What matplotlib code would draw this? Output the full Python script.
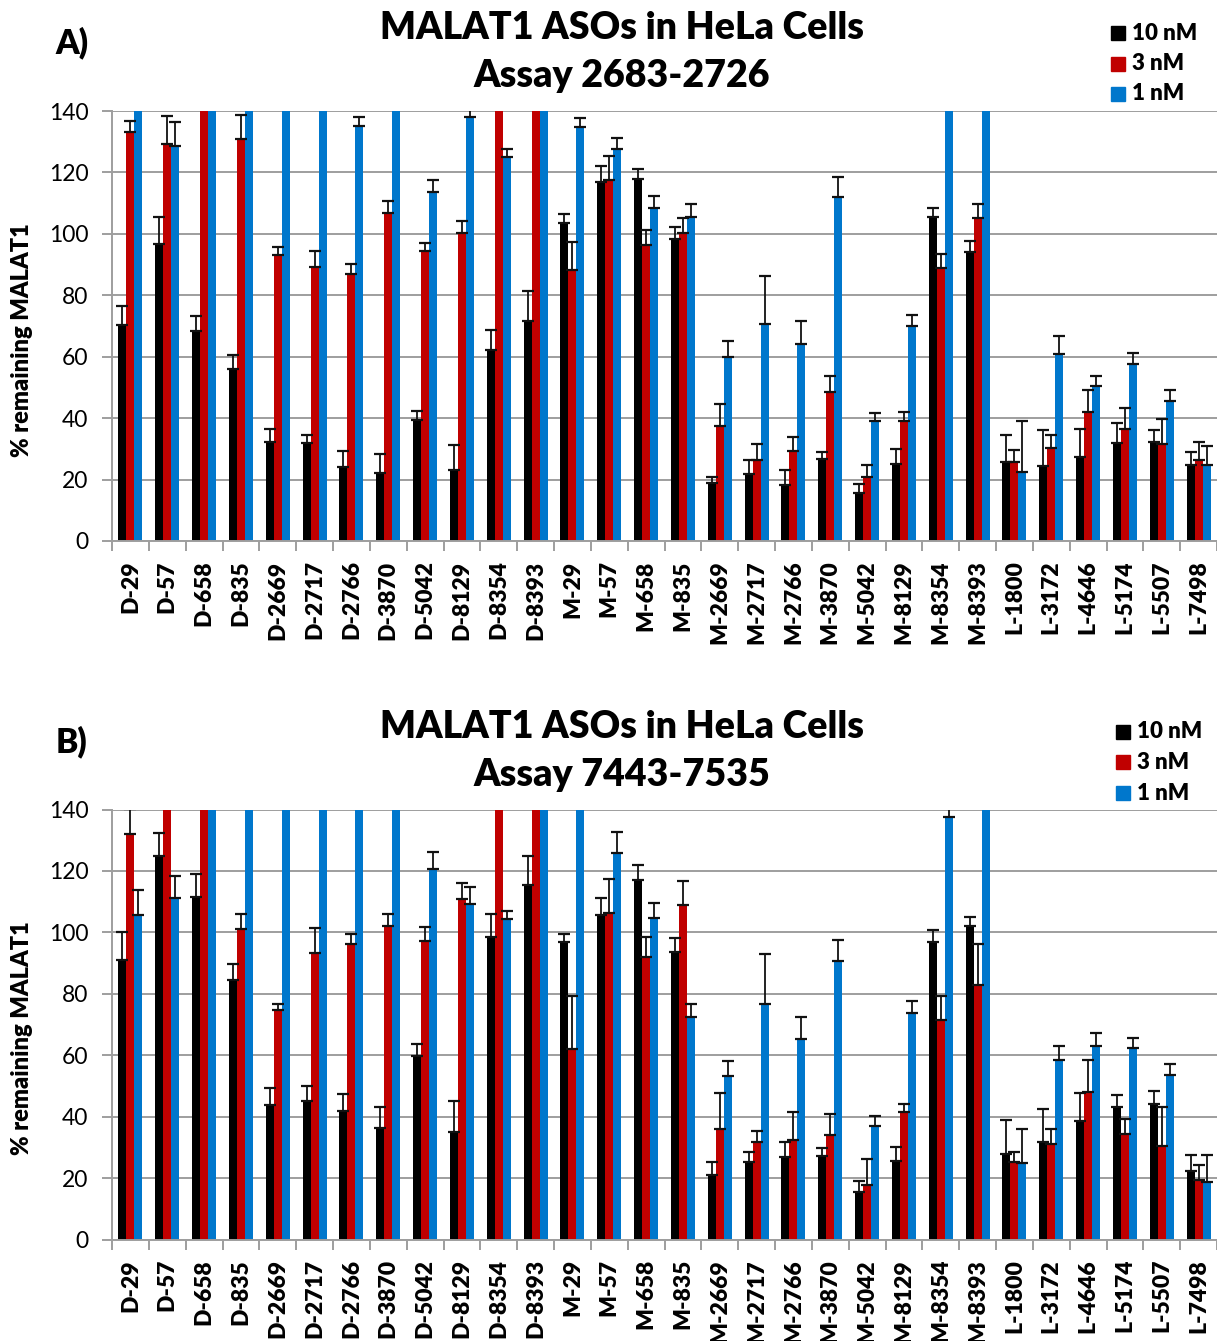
import numpy as np
import matplotlib
matplotlib.use("Agg")
import matplotlib.pyplot as plt

plt.rcParams['font.family'] = ['Lato', 'DejaVu Sans']

# --- Data (bars above 140 are off-scale)
labels = ["D-29", "D-57", "D-658", "D-835", "D-2669", "D-2717", "D-2766", "D-3870",
          "D-5042", "D-8129", "D-8354", "D-8393", "M-29", "M-57", "M-658", "M-835",
          "M-2669", "M-2717", "M-2766", "M-3870", "M-5042", "M-8129", "M-8354", "M-8393",
          "L-1800", "L-3172", "L-4646", "L-5174", "L-5507", "L-7498"]
series_names = ["10 nM", "3 nM", "1 nM"]

# Panel A: Assay 2683-2726
a_10 = [70.2, 96.7, 68.4, 56.1, 32.3, 31.9, 24.0, 22.0, 39.4, 23.0, 62.2, 71.7, 103.6, 117.0, 117.9,
        98.4, 18.9, 21.7, 18.3, 26.7, 15.5, 25.0, 105.6, 94.2, 25.7, 24.3, 27.5, 31.9, 32.2, 24.9]
a_10_err = [6.4, 8.8, 5.0, 4.4, 4.3, 2.5, 5.2, 6.4, 3.0, 8.4, 6.4, 9.7, 3.0, 5.1, 3.3,
            3.8, 1.9, 4.6, 4.8, 2.2, 3.0, 5.1, 2.8, 3.6, 8.7, 11.8, 9.1, 6.4, 4.0, 4.0]
a_3 = [133.3, 129.3, 150, 130.8, 93.1, 89.1, 87.0, 106.7, 94.3, 100.2, 150, 150, 88.2, 117.4, 96.4,
       100.2, 37.6, 26.3, 29.2, 48.4, 20.8, 39.1, 89.0, 105.2, 25.7, 30.4, 42.0, 36.5, 31.5, 26.5]
a_3_err = [3.6, 9.0, 0, 7.9, 2.6, 5.2, 3.1, 4.0, 2.8, 4.1, 0, 0, 9.3, 8.0, 4.8,
           4.9, 6.9, 5.2, 4.7, 5.3, 4.1, 2.9, 4.6, 4.5, 4.0, 4.1, 7.3, 6.8, 8.3, 5.7]
a_1 = [150, 128.6, 150, 150, 150, 150, 135.0, 150, 113.7, 137.9, 125.1, 150, 134.8, 127.6, 108.5,
       105.5, 60.0, 70.7, 64.1, 111.9, 39.1, 69.9, 150, 150, 22.5, 60.8, 50.5, 57.6, 45.6, 24.6]
a_1_err = [0, 7.8, 0, 0, 0, 0, 3.0, 0, 3.8, 2.6, 2.4, 0, 2.9, 3.5, 3.9,
           4.2, 5.2, 15.6, 7.4, 6.5, 2.6, 3.8, 0, 0, 16.6, 6.1, 3.3, 3.5, 3.6, 6.2]

# Panel B: Assay 7443-7535
b_10 = [91.1, 124.9, 111.4, 84.6, 43.9, 45.1, 41.9, 36.2, 59.8, 35.0, 98.5, 115.3, 96.8, 105.8, 117.0,
        93.7, 20.9, 25.3, 26.8, 27.2, 15.5, 25.5, 96.8, 102.1, 27.7, 31.9, 38.7, 43.1, 44.2, 22.3]
b_10_err = [9.1, 7.4, 7.5, 5.1, 5.5, 5.0, 5.6, 7.0, 4.0, 10.0, 7.4, 9.4, 2.8, 5.3, 4.8,
            4.5, 4.3, 3.3, 5.0, 2.6, 3.4, 4.5, 4.0, 2.8, 11.3, 10.5, 8.9, 3.8, 4.2, 5.1]
b_3 = [132.0, 150, 150, 101.2, 74.6, 93.2, 96.3, 102.2, 97.3, 110.7, 150, 150, 62.1, 106.3, 92.0,
       108.8, 36.1, 31.8, 32.3, 33.9, 17.7, 41.6, 71.4, 82.9, 25.2, 31.2, 48.0, 34.2, 30.5, 19.3]
b_3_err = [8.1, 0, 0, 4.9, 2.2, 8.1, 3.3, 3.7, 4.4, 5.3, 0, 0, 17.1, 11.0, 6.4,
           7.8, 11.6, 3.4, 9.3, 7.0, 8.5, 2.5, 8.0, 13.4, 3.4, 4.8, 10.3, 5.0, 12.5, 5.1]
b_1 = [105.6, 111.1, 150, 150, 150, 150, 150, 150, 120.6, 109.3, 104.3, 150, 150, 126.0, 104.8,
       72.6, 53.2, 76.7, 65.2, 90.8, 36.9, 73.7, 137.4, 150, 24.8, 58.3, 63.0, 62.2, 53.5, 18.7]
b_1_err = [8.2, 7.4, 0, 0, 0, 0, 0, 0, 5.6, 5.5, 2.7, 0, 0, 6.7, 4.6,
           4.2, 4.9, 16.1, 7.2, 6.6, 3.3, 3.8, 4.5, 0, 11.3, 4.8, 4.3, 3.5, 3.8, 8.9]

colors = ["#000000", "#C00000", "#0077CC"]
GRID = "#9E9E9E"
HEAVY = 800  # Lato extra-bold, closest to the heavy Calibri bold of the original

fig = plt.figure(figsize=(12.17, 13.41), dpi=100)


def draw_panel(bottom, series, errs, letter, assay, legend_x, legend_y):
    ax = fig.add_axes([112 / 1217, bottom, 1105 / 1217, 430 / 1341])
    x = np.arange(len(labels))
    w = 0.217
    for i, (vals, err, c) in enumerate(zip(series, errs, colors)):
        pos = x + (i - 1) * w
        ax.bar(pos, vals, width=w, color=c, zorder=2)
        ax.errorbar(pos, vals, yerr=[np.zeros(len(err)), err], fmt="none",
                    ecolor="#111111", elinewidth=1.3, capsize=4.5, capthick=1.6, zorder=3)
    ax.set_ylim(0, 140)
    ax.set_xlim(-0.5, len(labels) - 0.5)
    ax.set_yticks(range(0, 141, 20))
    ax.yaxis.grid(True, color=GRID, lw=1.4, zorder=0)
    ax.set_axisbelow(True)
    for s in ["top", "right"]:
        ax.spines[s].set_visible(False)
    for s in ["left", "bottom"]:
        ax.spines[s].set_color(GRID)
        ax.spines[s].set_linewidth(1.4)
    ax.tick_params(axis="y", length=7, width=1.4, color=GRID, labelsize=16.5, pad=10)
    # category boundary ticks, labels at centers
    ax.set_xticks(np.arange(-0.5, len(labels), 1.0))
    ax.set_xticklabels([])
    ax.tick_params(axis="x", which="major", length=7, width=1.4, color=GRID)
    ax.set_xticks(x, minor=True)
    ax.set_xticklabels(labels, minor=True, rotation=90, fontsize=16.5, fontweight=HEAVY)
    ax.tick_params(axis="x", which="minor", length=0, pad=14)

    top = bottom + 430 / 1341
    yc = bottom + 215 / 1341
    fig.text(22 / 1217, yc - 14 / 1341, "% remaining MALAT1", rotation=90, ha="center", va="center",
             fontsize=17, fontweight=HEAVY)
    fig.text(622 / 1217, top + 83 / 1341, "MALAT1 ASOs in HeLa Cells", ha="center", va="center",
             fontsize=27, fontweight=HEAVY)
    fig.text(622 / 1217, top + 35 / 1341, assay, ha="center", va="center",
             fontsize=27, fontweight=HEAVY)
    fig.text(72 / 1217, top + 68 / 1341, letter, ha="center", va="center",
             fontsize=24, fontweight=HEAVY)
    for i, (name, c) in enumerate(zip(series_names, colors)):
        yy = 1 - (legend_y + i * 30.5) / 1341
        fig.patches.append(plt.Rectangle((legend_x / 1217, yy - 7 / 1341), 14 / 1217, 14 / 1341,
                                         transform=fig.transFigure, color=c, figure=fig))
        fig.text((legend_x + 21) / 1217, yy, name, ha="left", va="center",
                 fontsize=16, fontweight=HEAVY)
    return ax


draw_panel(1 - 541 / 1341, [a_10, a_3, a_1], [a_10_err, a_3_err, a_1_err],
           "A)", "Assay 2683-2726", 1111, 33)
draw_panel(1 - 1239.5 / 1341, [b_10, b_3, b_1], [b_10_err, b_3_err, b_1_err],
           "B)", "Assay 7443-7535", 1116, 732)

fig.savefig("out.png", dpi=100)
